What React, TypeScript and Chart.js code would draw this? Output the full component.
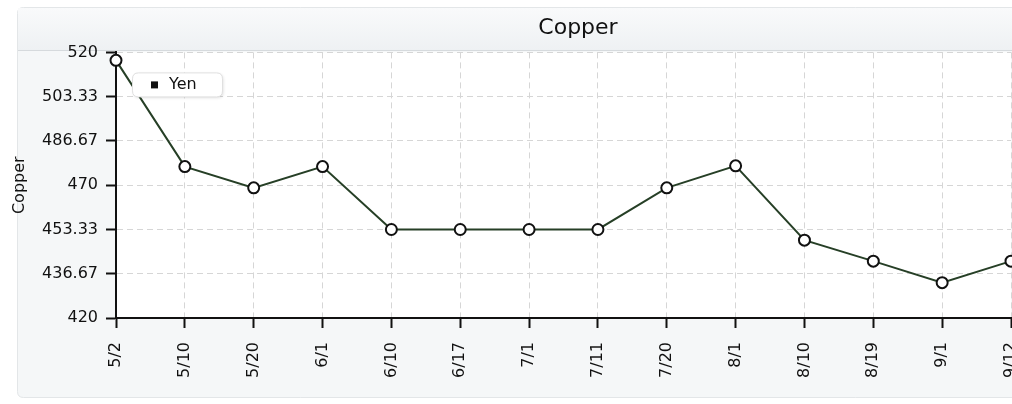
import React, { useEffect, useRef } from "react";
import { Chart, registerables } from "chart.js";

Chart.register(...registerables);

const categories = ["5/2", "5/10", "5/20", "6/1", "6/10", "6/17", "7/1", "7/11", "7/20", "8/1", "8/10", "8/19", "9/1", "9/12"];
const yenValues = [517, 477, 469, 477, 453.33, 453.33, 453.33, 453.33, 469, 477.3, 449.3, 441.4, 433.3, 441.4];
const yTicks = [420, 436.67, 453.33, 470, 486.67, 503.33, 520];
const seriesName = "Yen";
const chartTitle = "Copper";
const yAxisTitle = "Copper";

const FONT = "'DejaVu Sans', Verdana, sans-serif";

function roundRect(ctx: CanvasRenderingContext2D, x: number, y: number, w: number, h: number, r: number) {
  ctx.beginPath();
  ctx.moveTo(x + r, y);
  ctx.lineTo(x + w - r, y);
  ctx.quadraticCurveTo(x + w, y, x + w, y + r);
  ctx.lineTo(x + w, y + h - r);
  ctx.quadraticCurveTo(x + w, y + h, x + w - r, y + h);
  ctx.lineTo(x + r, y + h);
  ctx.quadraticCurveTo(x, y + h, x, y + h - r);
  ctx.lineTo(x, y + r);
  ctx.quadraticCurveTo(x, y, x + r, y);
  ctx.closePath();
}

const bgPlugin = {
  id: "panelBg",
  afterLayout(chart: any) {
    // centre the title over the whole (partly hidden) panel, as in the reference
    const t = chart.titleBlock;
    if (t) {
      t.left = 0;
      t.right = chart.width;
      t.width = chart.width;
    }
  },
  beforeDraw(chart: any) {
    const { ctx, width, chartArea } = chart;
    ctx.save();
    ctx.fillStyle = "#ffffff";
    ctx.fillRect(0, 0, width, chart.height);
    roundRect(ctx, 17.5, 7.5, width - 35, 390, 6);
    ctx.fillStyle = "#f5f7f8";
    ctx.fill();
    ctx.strokeStyle = "#e3e6e8";
    ctx.lineWidth = 1;
    ctx.stroke();
    const g = ctx.createLinearGradient(0, 8, 0, 50);
    g.addColorStop(0, "#f9fafb");
    g.addColorStop(1, "#eef1f3");
    ctx.fillStyle = g;
    ctx.fillRect(18, 8, width - 36, 42);
    ctx.strokeStyle = "#d6dadd";
    ctx.beginPath();
    ctx.moveTo(18, 50.5);
    ctx.lineTo(width - 18, 50.5);
    ctx.stroke();
    ctx.fillStyle = "#ffffff";
    ctx.fillRect(chartArea.left, chartArea.top, chartArea.right - chartArea.left, chartArea.bottom - chartArea.top);
    ctx.restore();
  },
};

const legendPlugin = {
  id: "boxLegend",
  afterDatasetsDraw(chart: any) {
    const { ctx, chartArea } = chart;
    const ds = chart.data.datasets[0];
    const x = chartArea.left + 16;
    const y = chartArea.top + 20;
    const w = 90;
    const h = 24;
    ctx.save();
    ctx.shadowColor = "rgba(0,0,0,0.12)";
    ctx.shadowBlur = 3;
    ctx.shadowOffsetX = 1;
    ctx.shadowOffsetY = 1;
    roundRect(ctx, x + 0.5, y + 0.5, w, h, 6);
    ctx.fillStyle = "#ffffff";
    ctx.fill();
    ctx.shadowColor = "transparent";
    ctx.strokeStyle = "#e0e0e0";
    ctx.lineWidth = 1;
    ctx.stroke();
    ctx.fillStyle = "#111111";
    ctx.fillRect(x + 19, y + 9, 7, 7);
    ctx.font = `16px ${FONT}`;
    ctx.textBaseline = "middle";
    ctx.textAlign = "left";
    ctx.fillText(ds.label, x + 37, y + 12.5);
    ctx.restore();
  },
};

export default function App() {
  const ref = useRef<HTMLCanvasElement>(null);
  useEffect(() => {
    const chart = new Chart(ref.current!, {
      type: "line",
      data: {
        labels: categories,
        datasets: [
          {
            label: seriesName,
            data: yenValues,
            borderColor: "#263f26",
            borderWidth: 2,
            tension: 0,
            pointRadius: 5.5,
            pointBackgroundColor: "#ffffff",
            pointBorderColor: "#111111",
            pointBorderWidth: 2,
            clip: false,
          },
        ],
      },
      options: {
        animation: false,
        responsive: false,
        maintainAspectRatio: false,
        layout: { padding: { left: 0, right: 145, top: 0, bottom: 0 } },
        plugins: {
          legend: { display: false },
          tooltip: { enabled: false },
          title: {
            display: true,
            text: chartTitle,
            color: "#111111",
            font: { family: FONT, size: 22, weight: "normal" },
            padding: { top: 15, bottom: 11 },
          },
        },
        scales: {
          x: {
            type: "category",
            offset: false,
            afterFit: (s: any) => {
              s.height = 86;
            },
            grid: {
              color: "#d6d6d6",
              lineWidth: 1,
              drawTicks: true,
              tickLength: 10,
              tickColor: "#111111",
              tickWidth: 2,
            },
            border: { display: true, color: "#111111", width: 2, dash: [6, 4] },
            ticks: {
              autoSkip: false,
              maxRotation: 90,
              minRotation: 90,
              padding: 14,
              color: "#111111",
              font: { family: FONT, size: 16 },
            },
          },
          y: {
            min: 420,
            max: 520,
            afterFit: (s: any) => {
              s.width = 116;
            },
            afterBuildTicks: (s: any) => {
              s.ticks = yTicks.map((v) => ({ value: v }));
            },
            grid: {
              color: "#d6d6d6",
              lineWidth: 1,
              drawTicks: true,
              tickLength: 10,
              tickColor: "#111111",
              tickWidth: 2,
            },
            border: { display: true, color: "#111111", width: 2, dash: [6, 4] },
            ticks: {
              padding: 8,
              color: "#111111",
              font: { family: FONT, size: 16 },
              callback: (v: any) => String(+Number(v).toFixed(2)),
            },
            title: {
              display: true,
              text: yAxisTitle,
              color: "#111111",
              font: { family: FONT, size: 16 },
              padding: { top: 10, bottom: 0 },
            },
          },
        },
      },
      plugins: [bgPlugin, legendPlugin],
    });
    return () => chart.destroy();
  }, []);
  return (
    <div
      style={{
        position: "fixed",
        left: 0,
        top: 0,
        width: 1012,
        height: 404,
        overflow: "hidden",
        background: "#ffffff",
      }}
    >
      <canvas ref={ref} width={1156} height={404} style={{ display: "block", width: 1156, height: 404 }} />
    </div>
  );
}
